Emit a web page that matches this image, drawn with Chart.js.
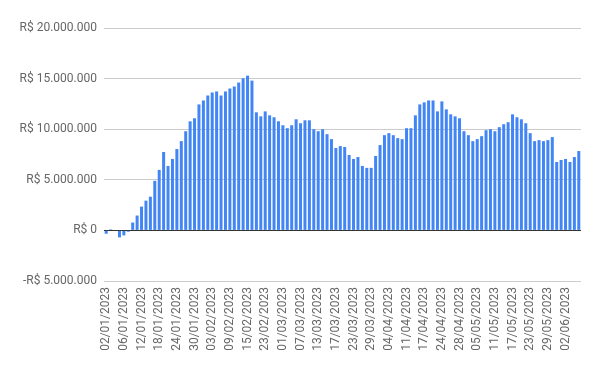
<!DOCTYPE html>
<html>
<head>
<meta charset="utf-8">
<script src="https://cdn.jsdelivr.net/npm/chart.js@4/dist/chart.umd.min.js"></script>
<style>
  html, body { margin: 0; padding: 0; background: #fff; }
  #wrap { width: 600px; height: 371px; }
</style>
</head>
<body>
<div id="wrap"><canvas id="chart"></canvas></div>
<script>
// trading days (B3 calendar, holidays skipped)
const days = [
  "02/01/2023","03/01/2023","04/01/2023","05/01/2023","06/01/2023","09/01/2023","10/01/2023","11/01/2023",
  "12/01/2023","13/01/2023","16/01/2023","17/01/2023","18/01/2023","19/01/2023","20/01/2023","23/01/2023",
  "24/01/2023","25/01/2023","26/01/2023","27/01/2023","30/01/2023","31/01/2023",
  "01/02/2023","02/02/2023","03/02/2023","06/02/2023","07/02/2023","08/02/2023","09/02/2023","10/02/2023",
  "13/02/2023","14/02/2023","15/02/2023","16/02/2023","17/02/2023","22/02/2023","23/02/2023","24/02/2023",
  "27/02/2023","28/02/2023",
  "01/03/2023","02/03/2023","03/03/2023","06/03/2023","07/03/2023","08/03/2023","09/03/2023","10/03/2023",
  "13/03/2023","14/03/2023","15/03/2023","16/03/2023","17/03/2023","20/03/2023","21/03/2023","22/03/2023",
  "23/03/2023","24/03/2023","27/03/2023","28/03/2023","29/03/2023","30/03/2023","31/03/2023",
  "03/04/2023","04/04/2023","05/04/2023","06/04/2023","10/04/2023","11/04/2023","12/04/2023","13/04/2023",
  "14/04/2023","17/04/2023","18/04/2023","19/04/2023","20/04/2023","24/04/2023","25/04/2023","26/04/2023",
  "27/04/2023","28/04/2023",
  "02/05/2023","03/05/2023","04/05/2023","05/05/2023","08/05/2023","09/05/2023","10/05/2023","11/05/2023",
  "12/05/2023","15/05/2023","16/05/2023","17/05/2023","18/05/2023","19/05/2023","22/05/2023","23/05/2023",
  "24/05/2023","25/05/2023","26/05/2023","29/05/2023","30/05/2023","31/05/2023",
  "01/06/2023","02/06/2023","05/06/2023","06/06/2023","07/06/2023"
];

// daily balance in R$
const balance = [
  -330000, 100000, 0, -690000, -490000, -130000, 780000, 1470000,
  2350000, 2940000, 3330000, 4900000, 5980000, 7750000, 6370000, 7060000,
  8040000, 8820000, 9800000, 10780000, 11080000, 12450000,
  12840000, 13330000, 13630000, 13730000, 13330000, 13730000, 14020000, 14220000,
  14610000, 15030000, 15290000, 14800000, 11670000, 11270000, 11760000, 11370000,
  11180000, 10780000,
  10390000, 10100000, 10390000, 10980000, 10590000, 10880000, 10880000, 10000000,
  9800000, 10000000, 9510000, 9020000, 8140000, 8330000, 8240000, 7450000,
  7060000, 7250000, 6370000, 6180000, 6180000, 7350000, 8430000,
  9410000, 9610000, 9410000, 9120000, 9020000, 10100000, 10100000, 11370000,
  12450000, 12650000, 12840000, 12840000, 11760000, 12750000, 11960000, 11470000,
  11270000, 11080000,
  9800000, 9410000, 8820000, 9020000, 9310000, 9900000, 10000000, 9800000,
  10200000, 10490000, 10690000, 11470000, 11180000, 10980000, 10590000, 9610000,
  8820000, 8920000, 8820000, 8920000, 9220000,
  6760000, 6960000, 7060000, 6760000, 7250000, 7840000
];

const yTicks = [-5000000, 0, 5000000, 10000000, 15000000, 20000000];

function brl(v) {
  const s = Math.abs(v).toString().replace(/\B(?=(\d{3})+(?!\d))/g, '.');
  return (v < 0 ? '-R$ ' : 'R$ ') + s;
}

Chart.defaults.font.family = 'Roboto, Arial, sans-serif';
Chart.defaults.font.size = 12;
Chart.defaults.color = '#666';

new Chart(document.getElementById('chart'), {
  type: 'bar',
  data: {
    labels: days,
    datasets: [{
      data: balance,
      backgroundColor: '#4285f4',
      borderWidth: 0,
      barPercentage: 1,
      categoryPercentage: 0.68
    }]
  },
  options: {
    responsive: true,
    maintainAspectRatio: false,
    animation: false,
    layout: { padding: { left: 0, right: 19, top: 28, bottom: 0 } },
    plugins: {
      legend: { display: false },
      tooltip: { enabled: false }
    },
    scales: {
      x: {
        grid: { display: false, drawTicks: false },
        border: { display: false },
        ticks: {
          autoSkip: false,
          maxRotation: 90,
          minRotation: 90,
          padding: 6,
          callback: function (v, i) { return i % 4 === 0 ? days[i] : null; }
        },
        afterFit: function (s) { s.height = 90; }
      },
      y: {
        min: yTicks[0],
        max: yTicks[yTicks.length - 1],
        afterBuildTicks: function (s) { s.ticks = yTicks.map(function (v) { return { value: v }; }); },
        grid: {
          drawTicks: false,
          color: function (c) { return c.tick && c.tick.value === 0 ? '#333' : '#ccc'; },
          lineWidth: 1
        },
        border: { display: false },
        ticks: {
          padding: 7,
          callback: function (v) { return brl(v); }
        },
        afterFit: function (s) { s.width = 104; }
      }
    }
  }
});
</script>
</body>
</html>
